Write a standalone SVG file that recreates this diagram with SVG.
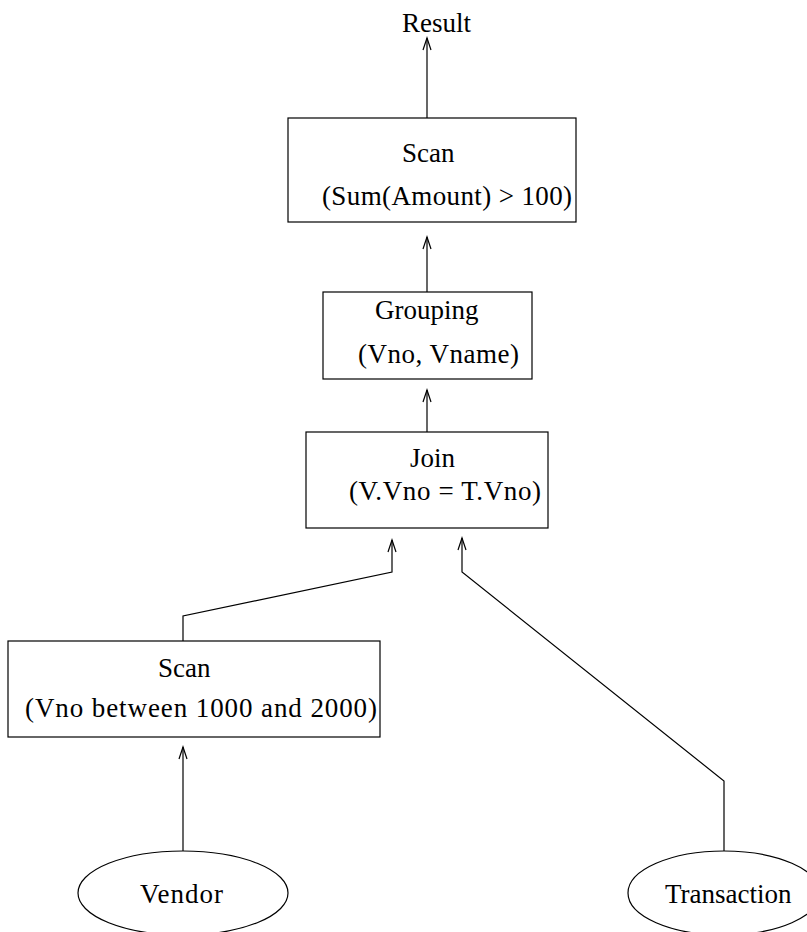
<svg xmlns="http://www.w3.org/2000/svg" width="807" height="932" viewBox="0 0 807 932">
<style>
.box{fill:#fff;stroke:#000;stroke-width:1.2}
.t{font-family:"Liberation Serif","Times New Roman",serif;font-size:27px;fill:#000}
.c{fill:none;stroke:#000;stroke-width:1.2}
</style>
<defs>
<marker id="ah" markerUnits="userSpaceOnUse" markerWidth="16" markerHeight="12" refX="14" refY="6" orient="auto" viewBox="0 0 16 12">
<path d="M2,2 L14,6 L2,10" fill="none" stroke="#000" stroke-width="1.2"/>
</marker>
</defs>
<rect width="807" height="932" fill="#fff"/>
<g id="connectors">
<path class="c" d="M427,118 L427,38" marker-end="url(#ah)"/>
<path class="c" d="M427,292 L427,237" marker-end="url(#ah)"/>
<path class="c" d="M427,432 L427,390" marker-end="url(#ah)"/>
<path class="c" d="M183,641 L183,616 L392,572 L392,540" marker-end="url(#ah)"/>
<path class="c" d="M724,851 L724,781 L462,572 L462,538" marker-end="url(#ah)"/>
<path class="c" d="M183,851 L183,747" marker-end="url(#ah)"/>
</g>
<g id="result"><text class="t" x="402" y="32">Result</text></g>
<g id="scan-top">
<rect class="box" x="288" y="118" width="288" height="104"/>
<text class="t" x="402" y="162">Scan</text>
<text class="t" x="322" y="205" textLength="250">(Sum(Amount) &gt; 100)</text>
</g>
<g id="grouping">
<rect class="box" x="323" y="292" width="209" height="87"/>
<text class="t" x="375" y="319">Grouping</text>
<text class="t" x="358" y="363" textLength="161">(Vno, Vname)</text>
</g>
<g id="join">
<rect class="box" x="306" y="432" width="242" height="96"/>
<text class="t" x="410" y="467">Join</text>
<text class="t" x="349" y="500" textLength="192">(V.Vno = T.Vno)</text>
</g>
<g id="scan-vendor">
<rect class="box" x="8" y="641" width="372" height="96"/>
<text class="t" x="158" y="677">Scan</text>
<text class="t" x="25" y="717" textLength="352">(Vno between 1000 and 2000)</text>
</g>
<g id="vendor">
<ellipse class="box" cx="183" cy="893" rx="105" ry="42"/>
<text class="t" x="140" y="903" textLength="83">Vendor</text>
</g>
<g id="transaction">
<ellipse class="box" cx="724" cy="893" rx="96" ry="42"/>
<text class="t" x="665" y="903">Transaction</text>
</g>
</svg>
